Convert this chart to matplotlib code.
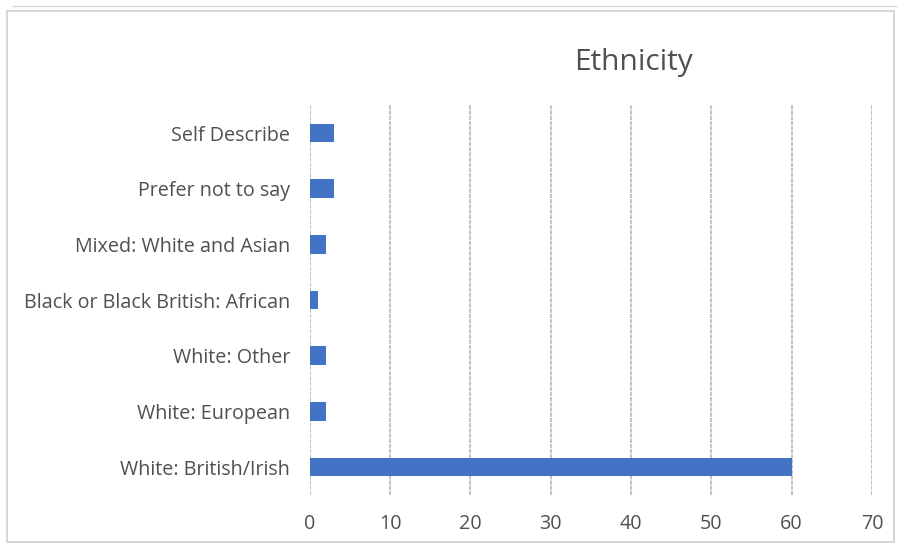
import numpy as np
from matplotlib import pyplot as plt
from matplotlib.patches import Rectangle

categories = ["White: British/Irish", "White: European", "White: Other",
              "Black or Black British: African", "Mixed: White and Asian",
              "Prefer not to say", "Self Describe"]
values = [60, 2, 2, 1, 2, 3, 3]
xticks = [0, 10, 20, 30, 40, 50, 60, 70]

plt.rcParams['font.family'] = ['Open Sans', 'DejaVu Sans']

fig = plt.figure(figsize=(8.98, 5.45), dpi=100)
ax = fig.add_axes([0.345, 0.092, 0.626, 0.715])

y = np.arange(len(categories))
ax.barh(y, values, height=0.34, color="#4472c4", zorder=3)

ax.set_xlim(0, 70)
ax.set_ylim(-0.5, 6.5)
ax.set_xticks(xticks)
ax.set_yticks(y)
ax.set_yticklabels(categories)
ax.tick_params(length=0, labelsize=14.2, labelcolor="#505050")
ax.tick_params(axis="x", pad=14)
ax.tick_params(axis="y", pad=14)
ax.xaxis.grid(True, color="#c4c4c4", linewidth=1.5, linestyle=(0, (2, 0.5)), zorder=0)
for s in ax.spines.values():
    s.set_visible(False)

fig.text(0.706, 0.885, "Ethnicity", ha="center", va="center",
         fontsize=21.5, color="#505050")

# chart frame
fig.patches.append(Rectangle((0.008, 0.005), 0.988, 0.975, transform=fig.transFigure,
                             fill=False, edgecolor="#d0d0d0", linewidth=1.2))
fig.lines.append(plt.Line2D([0.015, 1.0], [0.989, 0.989], transform=fig.transFigure,
                            color="#d9d9d9", linewidth=1))

fig.savefig("out.png", dpi=100)
